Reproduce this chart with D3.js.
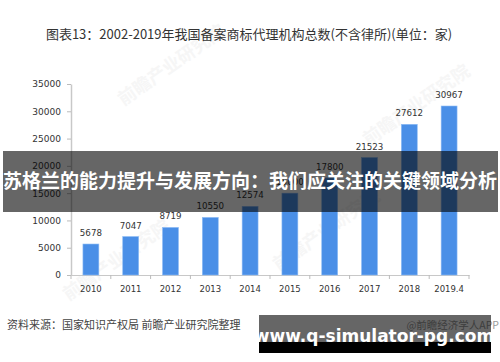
<!DOCTYPE html>
<html>
<head>
<meta charset="utf-8">
<script src="https://cdn.jsdelivr.net/npm/d3@7"></script>
<style>
  html, body { margin: 0; padding: 0; background: #fff; }
  svg { display: block; }
</style>
</head>
<body>
<div id="chart"></div>
<script>
// data
var years = ["2010", "2011", "2012", "2013", "2014", "2015", "2016", "2017", "2018", "2019.4"];
var counts = [5678, 7047, 8719, 10550, 12574, 15000, 17800, 21523, 27612, 30967];
var yTicks = [0, 5000, 10000, 15000, 20000, 25000, 30000, 35000];

var title = "图表13：2002-2019年我国备案商标代理机构总数(不含律所)(单位：家)";
var source = "资料来源：国家知识产权局 前瞻产业研究院整理";
var banner = "苏格兰的能力提升与发展方向：我们应关注的关键领域分析";
var site = "www.q-simulator-pg.com";
var credit = "@前瞻经济学人APP";

var W = 500, H = 362;
var svg = d3.select("#chart").append("svg")
    .attr("width", W)
    .attr("height", H);

var cjk = "'Noto Sans CJK SC', 'DejaVu Sans', sans-serif";
var num = "'DejaVu Sans', sans-serif";

// faint watermarks
var marks = [[175, 70], [420, 110], [120, 265], [330, 235]];
svg.append("g").selectAll("text")
  .data(marks)
  .enter().append("text")
    .attr("transform", function(d) { return "translate(" + d[0] + "," + d[1] + ") rotate(-35)"; })
    .attr("text-anchor", "middle")
    .style("font-family", cjk)
    .style("font-size", "18px")
    .style("font-weight", "bold")
    .style("fill", "#f6f6f6")
    .text("前瞻产业研究院");

svg.append("text")
    .attr("x", 249)
    .attr("y", 39)
    .attr("text-anchor", "middle")
    .style("font-family", cjk)
    .style("font-size", "13px")
    .style("fill", "#333")
    .text(title);

var x = d3.scaleBand()
    .domain(years)
    .range([71, 469])
    .paddingInner(0.6)
    .paddingOuter(0.3);

var y = d3.scaleLinear()
    .domain([0, 35000])
    .range([275, 84]);

// y axis
var yAxis = svg.append("g")
    .attr("transform", "translate(71,0)")
    .call(d3.axisLeft(y).tickValues(yTicks).tickFormat(d3.format("d"))
      .tickSize(4).tickPadding(6).tickSizeOuter(0));
yAxis.select(".domain").attr("stroke", "#c8c8c8").attr("stroke-width", 1.5);
yAxis.selectAll(".tick line").attr("stroke", "#bbb");
yAxis.selectAll("text")
    .style("font-family", num)
    .style("font-size", "9px")
    .style("fill", "#333");

// x axis: labels centred on bars, ticks on category boundaries
var xAxis = svg.append("g")
    .attr("transform", "translate(0,275)")
    .call(d3.axisBottom(x).tickSize(0).tickPadding(11));
xAxis.select(".domain").attr("stroke", "#c8c8c8").attr("stroke-width", 1.2);
xAxis.selectAll("text")
    .style("font-family", num)
    .style("font-size", "8.5px")
    .style("fill", "#333");

var edge = d3.scaleLinear().domain([0, years.length]).range(x.range());
xAxis.selectAll(".bound")
  .data(d3.range(years.length + 1))
  .enter().append("line")
    .attr("class", "bound")
    .attr("x1", edge).attr("x2", edge)
    .attr("y1", 0).attr("y2", 4)
    .attr("stroke", "#bbb");

// bars
var rows = years.map(function(d, i) { return {year: d, val: counts[i]}; });

svg.append("g").selectAll("rect")
  .data(rows)
  .enter().append("rect")
    .attr("x", function(d) { return x(d.year); })
    .attr("y", function(d) { return y(d.val); })
    .attr("width", x.bandwidth())
    .attr("height", function(d) { return y(0) - y(d.val); })
    .attr("fill", "#4a8fe7")
    .attr("stroke", "#8dbcf5")
    .attr("stroke-width", 0.6);

svg.append("g").selectAll("text")
  .data(rows)
  .enter().append("text")
    .attr("x", function(d) { return x(d.year) + x.bandwidth() / 2; })
    .attr("y", function(d) { return y(d.val) - 8; })
    .attr("text-anchor", "middle")
    .style("font-family", num)
    .style("font-size", "8.7px")
    .style("fill", "#333")
    .text(function(d) { return d.val; });

svg.append("text")
    .attr("x", 7)
    .attr("y", 329)
    .style("font-family", cjk)
    .style("font-size", "11px")
    .style("fill", "#444")
    .text(source);

svg.append("text")
    .attr("x", 499)
    .attr("y", 329)
    .attr("text-anchor", "end")
    .style("font-family", cjk)
    .style("font-size", "10.5px")
    .style("fill", "#999")
    .text(credit);

// dark overlay banner across the middle
svg.append("rect")
    .attr("x", 3).attr("y", 151)
    .attr("width", 495).attr("height", 61)
    .attr("fill", "rgba(0,0,0,0.6)");

svg.append("text")
    .attr("x", 250)
    .attr("y", 188)
    .attr("text-anchor", "middle")
    .style("font-family", cjk)
    .style("font-size", "19px")
    .style("font-weight", "bold")
    .style("fill", "#fff")
    .text(banner);

// site badge at bottom right
svg.append("rect")
    .attr("x", 259).attr("y", 315)
    .attr("width", 232).attr("height", 27)
    .attr("fill", "rgba(0,0,0,0.6)");
svg.append("rect")
    .attr("x", 259).attr("y", 342)
    .attr("width", 232).attr("height", 11)
    .attr("fill", "#000");

svg.append("text")
    .attr("x", 374)
    .attr("y", 342)
    .attr("text-anchor", "middle")
    .style("font-family", "'DejaVu Sans', sans-serif")
    .style("font-size", "17px")
    .style("font-weight", "bold")
    .style("fill", "#fff")
    .text(site);
</script>
</body>
</html>
